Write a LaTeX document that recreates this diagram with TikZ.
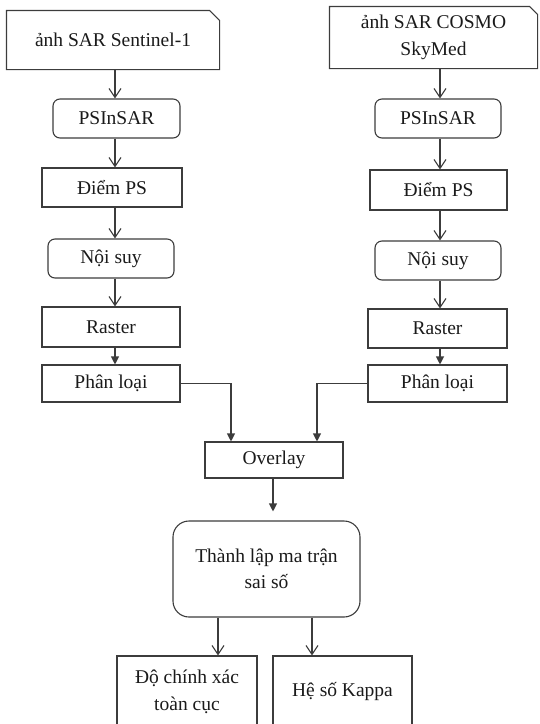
\documentclass[tikz,border=0pt]{standalone}
\usepackage{fontspec}
\setmainfont{Liberation Serif}
\usetikzlibrary{arrows.meta}
\definecolor{ln}{HTML}{3C3C3C}
\definecolor{tx}{HTML}{1A1A1A}
\tikzset{
  base/.style={draw=ln, line width=1.1pt, text=tx, align=center, inner sep=0pt,
    font=\fontsize{19.5}{26.5}\selectfont},
  sq/.style={base},
  rnd/.style={base, rounded corners=7pt},
  big/.style={base, rounded corners=16pt},
  chamf/.style={base, draw=none},
  opn/.style={draw=ln, line width=1.1pt, -{Straight Barb[length=9pt,width=12pt]}},
  fil/.style={draw=ln, line width=1.1pt, -{Triangle[length=8pt,width=8pt]}},
}
\begin{document}
\begin{tikzpicture}[x=1pt,y=-1pt]
\useasboundingbox (0,0) rectangle (539,724);
\clip (0,0) rectangle (539,724);
% top boxes with a cut corner
\node[chamf, minimum width=212pt, minimum height=61pt] (s1) at (113,40) {ảnh SAR Sentinel-1};
\draw[ln, line width=1.1pt] ([yshift=1.5pt]s1.south west) -- ([yshift=-1.5pt]s1.north west) -- ([xshift=-10pt,yshift=-1.5pt]s1.north east)
  -- ([yshift=-11.5pt]s1.north east) -- ([yshift=1.5pt]s1.south east) -- cycle;
\node[chamf, minimum width=207pt, minimum height=61pt] (c1) at (433.5,37.5) {ảnh SAR COSMO\\SkyMed};
\draw[ln, line width=1.1pt] (c1.south west) -- (c1.north west) -- ([xshift=-8pt]c1.north east)
  -- ([yshift=-8pt]c1.north east) -- (c1.south east) -- cycle;
% left column
\node[rnd, minimum width=127pt, minimum height=39pt] (p1) at (116.5,118.5) {PSInSAR};
\node[sq, minimum width=140pt, minimum height=39pt] (d1) at (112,187.5) {Điểm PS};
\node[rnd, minimum width=126pt, minimum height=39pt] (n1) at (111,258.5) {Nội suy};
\node[sq, minimum width=138pt, minimum height=40pt] (r1) at (111,327) {Raster};
\node[sq, minimum width=138pt, minimum height=37pt] (l1) at (111,383.5) {Phân loại};
% right column
\node[rnd, minimum width=126pt, minimum height=39pt] (p2) at (438,118.5) {PSInSAR};
\node[sq, minimum width=137pt, minimum height=40pt] (d2) at (438.5,190) {Điểm PS};
\node[rnd, minimum width=126pt, minimum height=39pt] (n2) at (438,260.5) {Nội suy};
\node[sq, minimum width=139pt, minimum height=39pt] (r2) at (437.5,328.5) {Raster};
\node[sq, minimum width=139pt, minimum height=37pt] (l2) at (437.5,383.5) {Phân loại};
% lower part
\node[sq, minimum width=138pt, minimum height=36pt] (ov) at (274,460) {Overlay};
\node[big, minimum width=187pt, minimum height=96pt] (tl) at (266.5,569) {Thành lập ma trận\\sai số};
\node[sq, minimum width=140pt, minimum height=72pt] (b1) at (187,692) {Độ chính xác\\toàn cục};
\node[sq, minimum width=139pt, minimum height=72pt] (b2) at (342.5,692) {Hệ số Kappa};
% column guides
\coordinate (cl) at (115,0);
\coordinate (cr) at (440,0);
\coordinate (ol) at (231,0);
\coordinate (or) at (317,0);
\coordinate (ot) at (273,0);
\coordinate (bl) at (218,0);
\coordinate (br) at (312,0);
% left arrows
\draw[opn] ([yshift=1.5pt]s1.south -| cl) -- (p1.north -| cl);
\draw[opn] (p1.south -| cl) -- (d1.north -| cl);
\draw[opn] (d1.south -| cl) -- (n1.north -| cl);
\draw[opn] (n1.south -| cl) -- (r1.north -| cl);
\draw[fil] (r1.south -| cl) -- (l1.north -| cl);
% right arrows
\draw[opn] (c1.south -| cr) -- (p2.north -| cr);
\draw[opn] (p2.south -| cr) -- (d2.north -| cr);
\draw[opn] (d2.south -| cr) -- (n2.north -| cr);
\draw[opn] (n2.south -| cr) -- (r2.north -| cr);
\draw[fil] (r2.south -| cr) -- (l2.north -| cr);
% to overlay
\draw[fil] (l1.east) -| (ov.north -| ol);
\draw[fil] (l2.west) -| (ov.north -| or);
\draw[fil, shorten >=9pt] (ov.south -| ot) -- (tl.north -| ot);
\draw[opn] (tl.south -| bl) -- (b1.north -| bl);
\draw[opn] (tl.south -| br) -- (b2.north -| br);
\end{tikzpicture}
\end{document}
